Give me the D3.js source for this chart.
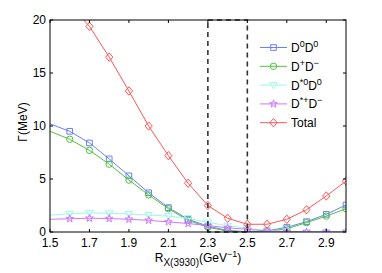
<!doctype html>
<html>
  <head>
    <script src="https://d3js.org/d3.v7.min.js"></script>
    <style>
      body { margin: 0; background: #fff; }
      text { font-family: "Liberation Sans", Arial, sans-serif; }
    </style>
  </head>
  <body>
    <svg id="chart" width="382" height="273"></svg>

    <script>
      // R values (GeV^-1) and partial widths (MeV)
      var rValues = [1.5, 1.6, 1.7, 1.8, 1.9, 2.0, 2.1, 2.2, 2.3, 2.4, 2.5, 2.6, 2.7, 2.8, 2.9, 3.0];
      var d0d0    = [10.2, 9.5, 8.4, 6.9, 5.3, 3.7, 2.3, 1.2, 0.55, 0.15, 0.02, 0.1, 0.45, 0.97, 1.67, 2.55];
      var dpdm    = [9.5, 8.75, 7.7, 6.4, 4.9, 3.5, 2.2, 1.1, 0.45, 0.07, 0.0, 0.05, 0.3, 0.88, 1.5, 2.2];
      var ds0d0   = [1.6, 1.72, 1.8, 1.76, 1.7, 1.6, 1.5, 1.3, 0.9, 0.6, 0.35, 0.15, 0.05, 0.0, 0.0, 0.0];
      var dspdm   = [1.2, 1.25, 1.3, 1.27, 1.2, 1.1, 0.95, 0.8, 0.6, 0.4, 0.25, 0.1, 0.03, 0.0, 0.0, 0.0];
      var total   = [24.5, 21.5, 19.4, 16.5, 13.3, 10.0, 7.2, 4.6, 2.5, 1.3, 0.73, 0.73, 1.2, 2.1, 3.4, 4.8];

      var xTicks = [1.5, 1.7, 1.9, 2.1, 2.3, 2.5, 2.7, 2.9];
      var yTicks = [0, 5, 10, 15, 20];
      var windowR = [2.3, 2.5];

      var series = [
        {name: ["D", "0", "D", "0"], values: d0d0,  color: "#6b7fff", symbol: d3.symbolSquare},
        {name: ["D", "+", "D", "\u2212"], values: dpdm,  color: "#4fc23c", symbol: d3.symbolCircle},
        {name: ["D", "*0", "D", "0"], values: ds0d0, color: "#9ff7e4", symbol: "tri"},
        {name: ["D", "*+", "D", "\u2212"], values: dspdm, color: "#cf78ff", symbol: d3.symbolStar},
        {name: ["Total"], values: total, color: "#ff5555", symbol: "diamond"}
      ];

      var svg = d3.select("#chart");
      var pLeft = 50, pRight = 346, pTop = 20, pBottom = 232;

      var x = d3.scaleLinear().domain([1.5, 3.0]).range([pLeft, pRight]);
      var y = d3.scaleLinear().domain([0, 20]).range([pBottom, pTop]);

      svg.append("clipPath").attr("id", "clip")
        .append("rect")
          .attr("x", pLeft).attr("y", pTop)
          .attr("width", pRight - pLeft).attr("height", pBottom - pTop);

      function markerPath(sym) {
        if (sym === "tri") return "M-3.8,-2.5L3.8,-2.5L0,3.8Z";
        if (sym === "diamond") return "M0,-4.2L3.6,0L0,4.2L-3.6,0Z";
        return d3.symbol().type(sym).size(sym === d3.symbolStar ? 18 : 32)();
      }

      var line = d3.line()
        .x(function(d, i) { return x(rValues[i]); })
        .y(function(d) { return y(d); });

      var plot = svg.append("g").attr("clip-path", "url(#clip)");

      series.forEach(function(s) {
        plot.append("path")
          .attr("d", line(s.values))
          .attr("fill", "none")
          .attr("stroke", s.color)
          .attr("stroke-width", 1);

        plot.selectAll(null)
          .data(s.values.slice(1))
          .enter()
          .append("path")
            .attr("transform", function(d, i) { return "translate(" + x(rValues[i + 1]) + "," + y(d) + ")"; })
            .attr("d", markerPath(s.symbol))
            .attr("fill", "none")
            .attr("stroke", s.color)
            .attr("stroke-width", 1);
      });

      // dashed window 2.3 - 2.5
      svg.append("rect")
        .attr("x", x(windowR[0])).attr("y", y(20))
        .attr("width", x(windowR[1]) - x(windowR[0]))
        .attr("height", y(0) - y(20))
        .attr("fill", "none")
        .attr("stroke", "#333")
        .attr("stroke-width", 1.6)
        .attr("stroke-dasharray", "5,4");

      // axes with inward ticks on all sides
      var ax = svg.append("g").attr("font-size", 12);
      ax.append("rect")
        .attr("x", pLeft).attr("y", pTop)
        .attr("width", pRight - pLeft).attr("height", pBottom - pTop)
        .attr("fill", "none").attr("stroke", "#000").attr("stroke-width", 1);

      xTicks.forEach(function(t) {
        ax.append("line").attr("x1", x(t)).attr("x2", x(t)).attr("y1", pBottom).attr("y2", pBottom - 3).attr("stroke", "#000");
        ax.append("line").attr("x1", x(t)).attr("x2", x(t)).attr("y1", pTop).attr("y2", pTop + 3).attr("stroke", "#000");
        ax.append("text").attr("x", x(t)).attr("y", pBottom + 15).attr("text-anchor", "middle").text(d3.format(".1f")(t));
      });
      yTicks.forEach(function(t) {
        ax.append("line").attr("x1", pLeft).attr("x2", pLeft + 3).attr("y1", y(t)).attr("y2", y(t)).attr("stroke", "#000");
        ax.append("line").attr("x1", pRight).attr("x2", pRight - 3).attr("y1", y(t)).attr("y2", y(t)).attr("stroke", "#000");
        ax.append("text").attr("x", pLeft - 4).attr("y", y(t) + 4).attr("text-anchor", "end").text(t);
      });

      // axis labels
      svg.append("text")
        .attr("transform", "translate(27,122) rotate(-90)")
        .attr("text-anchor", "middle")
        .attr("font-size", 12)
        .text("\u0393(MeV)");

      var xl = svg.append("text").attr("x", 198).attr("y", 262).attr("text-anchor", "middle").attr("font-size", 12);
      xl.append("tspan").text("R");
      xl.append("tspan").attr("dy", 4).attr("font-size", 10).text("X(3930)");
      xl.append("tspan").attr("dy", -4).text("(GeV");
      xl.append("tspan").attr("dy", -5).attr("font-size", 9).text("\u22121");
      xl.append("tspan").attr("dy", 5).text(")");

      // legend
      var legend = svg.append("g");
      series.forEach(function(s, i) {
        var ly = 47.5 + i * 18.8;
        legend.append("line").attr("x1", 260).attr("x2", 287).attr("y1", ly).attr("y2", ly).attr("stroke", s.color);
        legend.append("path")
          .attr("transform", "translate(273.5," + ly + ")")
          .attr("d", markerPath(s.symbol))
          .attr("fill", "none").attr("stroke", s.color);
        var t = legend.append("text").attr("x", 291).attr("y", ly + 4.5).attr("font-size", 12);
        if (s.name.length === 1) {
          t.text(s.name[0]);
        } else {
          t.append("tspan").text(s.name[0]);
          t.append("tspan").attr("dy", -5).attr("font-size", 9).text(s.name[1]);
          t.append("tspan").attr("dy", 5).text(s.name[2]);
          t.append("tspan").attr("dy", -5).attr("font-size", 9).text(s.name[3]);
        }
      });
    </script>
  </body>
</html>
